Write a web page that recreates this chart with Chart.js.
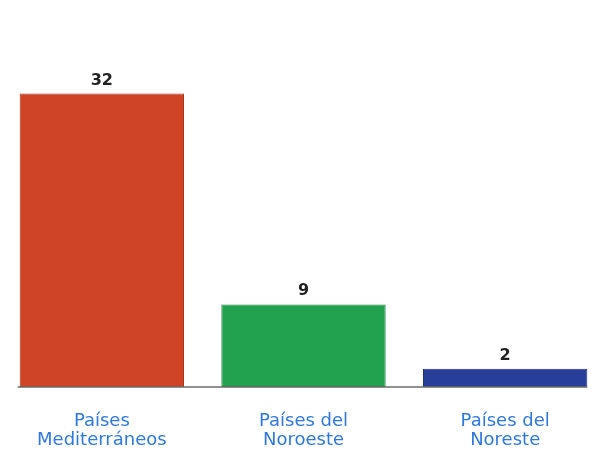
<!DOCTYPE html>
<html>
<head>
<meta charset="utf-8">
<script src="https://cdn.jsdelivr.net/npm/chart.js@4"></script>
<style>
  html, body { margin: 0; padding: 0; background: #ffffff; overflow: hidden; }
  #wrap { width: 606px; height: 453px; }
</style>
</head>
<body>
<div id="wrap"><canvas id="regionChart"></canvas></div>
<script>
// data
const categories = [
    ['Países', 'Mediterráneos'],
    ['Países del', 'Noroeste'],
    ['Países del', 'Noreste']
];
const values = [32, 9, 2];
const barColors = ['#cf4426', '#22a24e', '#283f9a'];
const edgeColors = ['#a8361e', '#1b8340', '#1f3178'];

// value above each bar + baseline under the bars
const barExtras = {
    id: 'barExtras',
    afterDatasetsDraw(chart) {
        const ctx = chart.ctx;
        const bars = chart.getDatasetMeta(0).data;
        const base = chart.scales.y.getPixelForValue(0);
        ctx.save();
        ctx.strokeStyle = '#6b6b6b';
        ctx.lineWidth = 1.5;
        ctx.beginPath();
        ctx.moveTo(bars[0].x - bars[0].width / 2 - 2, base);
        ctx.lineTo(bars[bars.length - 1].x + bars[bars.length - 1].width / 2, base);
        ctx.stroke();
        ctx.fillStyle = '#222222';
        ctx.font = 'bold 16px "DejaVu Sans", sans-serif';
        ctx.textAlign = 'center';
        ctx.textBaseline = 'alphabetic';
        bars.forEach((bar, i) => {
            ctx.fillText(values[i], bar.x, bar.y - 9);
        });
        ctx.restore();
    }
};

const ctx = document.getElementById('regionChart').getContext('2d');
new Chart(ctx, {
    type: 'bar',
    data: {
        labels: categories,
        datasets: [{
            data: values,
            backgroundColor: barColors,
            borderColor: edgeColors,
            borderWidth: 1,
            borderSkipped: false,
            barPercentage: 0.815,
            categoryPercentage: 1
        }]
    },
    plugins: [barExtras],
    options: {
        responsive: true,
        maintainAspectRatio: false,
        animation: false,
        layout: {
            padding: { top: 66, left: 1, right: 0, bottom: 0 }
        },
        plugins: {
            legend: { display: false },
            tooltip: { enabled: false }
        },
        scales: {
            x: {
                grid: { display: false },
                border: { display: false },
                afterFit(scale) { scale.height = 66; },
                ticks: {
                    color: '#2f78e0',
                    padding: 17,
                    font: { family: '"DejaVu Sans", sans-serif', size: 18, lineHeight: 1.06 }
                }
            },
            y: {
                display: false,
                min: 0,
                max: 35
            }
        }
    }
});
</script>
</body>
</html>
